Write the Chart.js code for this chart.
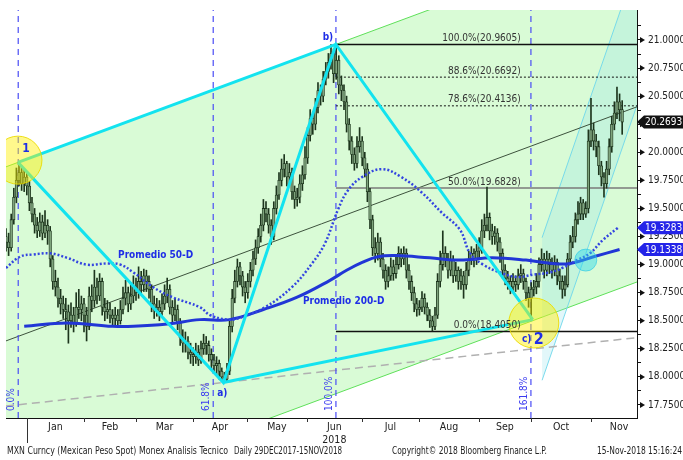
<!DOCTYPE html>
<html>
<head>
<meta charset="utf-8">
<script src="https://cdn.jsdelivr.net/npm/chart.js@4.4.1/dist/chart.umd.min.js"></script>
<style>
  html, body { margin: 0; padding: 0; background: #fff; }
</style>
</head>
<body>
<canvas id="chart" width="683" height="460"></canvas>
<script>
// daily MXN spot, trading day index 0 = 29 Dec 2017
var firstOpen = 19.25;
var closes = [
  19.20,19.15,19.40,19.60,19.75,19.82,19.72,19.78,19.70,19.55,
  19.45,19.35,19.30,19.38,19.28,19.35,19.30,19.05,18.85,18.80,
  18.70,18.65,18.60,18.58,18.50,18.55,18.48,18.62,18.60,18.65,
  18.55,18.45,18.72,18.68,18.80,18.72,18.85,18.62,18.58,18.60,
  18.55,18.52,18.55,18.50,18.60,18.70,18.75,18.65,18.72,18.80,
  18.75,18.85,18.82,18.90,18.85,18.78,18.65,18.60,18.62,18.58,
  18.65,18.72,18.78,18.62,18.55,18.60,18.48,18.35,18.30,18.32,
  18.22,18.20,18.18,18.22,18.15,18.25,18.30,18.28,18.20,18.15,
  18.10,18.12,18.05,18.00,17.98,18.05,18.45,18.70,18.85,18.98,
  18.90,18.80,18.75,18.85,18.95,19.05,19.15,19.25,19.35,19.50,
  19.45,19.35,19.25,19.50,19.62,19.75,19.85,19.90,19.78,19.82,
  19.65,19.58,19.60,19.72,19.80,19.95,20.15,20.30,20.25,20.40,
  20.55,20.50,20.65,20.72,20.80,20.88,20.70,20.82,20.60,20.55,
  20.45,20.25,20.10,19.98,19.90,20.05,20.10,19.95,19.85,19.65,
  19.40,19.15,19.10,19.20,19.05,18.95,18.85,18.90,18.98,18.92,
  19.00,19.10,19.05,19.10,18.95,18.85,18.75,18.65,18.60,18.62,
  18.70,18.62,18.55,18.50,18.45,18.55,18.85,19.00,19.10,19.05,
  18.95,19.05,18.90,18.95,18.85,18.90,18.82,18.95,19.05,19.10,
  19.05,19.12,19.15,19.30,19.35,19.42,19.30,19.25,19.28,19.20,
  19.10,18.95,18.88,18.85,18.80,18.85,18.82,18.90,18.92,18.85,
  18.75,18.70,18.78,18.80,18.85,19.00,19.05,18.95,19.05,19.00,
  18.95,19.02,18.90,18.85,18.78,18.82,19.05,19.20,19.25,19.40,
  19.45,19.55,19.45,19.50,20.10,20.20,20.10,20.05,19.88,19.78,
  19.72,19.85,20.05,20.25,20.35,20.45,20.38,20.2693
];
var highs = [
  19.32,19.28,19.45,19.68,19.86,19.91,19.88,19.85,19.82,19.74,
  19.60,19.50,19.42,19.46,19.44,19.48,19.40,19.34,19.08,18.95,
  18.88,18.78,18.72,18.70,18.64,18.66,18.62,18.75,18.78,18.72,
  18.70,18.62,18.80,18.82,18.95,18.88,18.92,18.88,18.70,18.68,
  18.66,18.60,18.62,18.60,18.68,18.80,18.86,18.80,18.84,18.90,
  18.88,18.98,18.94,18.96,18.95,18.90,18.82,18.72,18.70,18.68,
  18.74,18.82,18.88,18.82,18.68,18.70,18.64,18.52,18.42,18.40,
  18.36,18.30,18.26,18.30,18.28,18.32,18.38,18.36,18.32,18.25,
  18.20,18.18,18.15,18.08,18.04,18.12,18.50,18.78,18.95,19.05,
  19.02,18.94,18.85,18.92,19.02,19.12,19.22,19.32,19.45,19.58,
  19.56,19.50,19.40,19.56,19.70,19.82,19.94,19.98,19.92,19.90,
  19.86,19.70,19.68,19.80,19.88,20.05,20.22,20.38,20.36,20.48,
  20.62,20.60,20.72,20.80,20.88,20.96,20.92,20.96,20.86,20.68,
  20.60,20.50,20.30,20.14,20.04,20.14,20.22,20.14,20.00,19.90,
  19.68,19.44,19.24,19.28,19.24,19.10,19.00,18.98,19.06,19.04,
  19.08,19.16,19.14,19.16,19.14,19.00,18.90,18.80,18.70,18.68,
  18.76,18.74,18.66,18.60,18.54,18.62,18.92,19.12,19.30,19.16,
  19.10,19.12,19.08,19.02,18.98,18.96,18.94,19.02,19.12,19.16,
  19.14,19.18,19.24,19.40,19.45,19.69,19.46,19.36,19.34,19.32,
  19.24,19.14,19.00,18.94,18.90,18.92,18.90,18.96,19.00,18.96,
  18.88,18.80,18.84,18.86,18.92,19.06,19.14,19.10,19.12,19.10,
  19.06,19.08,19.05,18.96,18.90,18.90,19.10,19.26,19.34,19.46,
  19.56,19.60,19.58,19.56,20.20,20.48,20.26,20.16,20.10,19.92,
  19.82,19.92,20.12,20.32,20.45,20.58,20.52,20.46
];
var lows = [
  19.12,19.08,19.12,19.36,19.55,19.70,19.66,19.65,19.62,19.48,
  19.38,19.28,19.24,19.25,19.22,19.24,19.18,18.98,18.78,18.72,
  18.62,18.56,18.52,18.42,18.30,18.44,18.40,18.45,18.52,18.50,
  18.40,18.32,18.42,18.58,18.62,18.65,18.68,18.55,18.50,18.52,
  18.48,18.45,18.46,18.44,18.47,18.56,18.64,18.58,18.60,18.66,
  18.68,18.70,18.74,18.76,18.76,18.70,18.58,18.52,18.54,18.50,
  18.54,18.60,18.66,18.56,18.48,18.50,18.42,18.28,18.22,18.22,
  18.16,18.12,18.10,18.12,18.10,18.12,18.20,18.20,18.14,18.08,
  18.04,18.02,17.98,17.96,17.95,17.96,18.02,18.40,18.66,18.80,
  18.82,18.72,18.66,18.70,18.80,18.90,19.00,19.10,19.20,19.30,
  19.38,19.28,19.18,19.22,19.45,19.58,19.70,19.78,19.70,19.72,
  19.58,19.50,19.52,19.55,19.66,19.76,19.90,20.10,20.16,20.20,
  20.35,20.42,20.45,20.60,20.66,20.74,20.62,20.65,20.52,20.46,
  20.38,20.18,20.02,19.90,19.84,19.86,20.00,19.88,19.78,19.56,
  19.32,19.08,19.02,19.04,18.98,18.88,18.78,18.80,18.86,18.86,
  18.88,18.96,18.98,19.00,18.88,18.78,18.68,18.58,18.54,18.55,
  18.58,18.56,18.50,18.44,18.41,18.42,18.52,18.80,18.95,18.98,
  18.88,18.90,18.84,18.85,18.78,18.78,18.70,18.78,18.90,19.00,
  18.98,19.00,19.06,19.10,19.24,19.30,19.22,19.18,19.18,19.12,
  19.02,18.88,18.82,18.78,18.74,18.76,18.76,18.78,18.84,18.78,
  18.68,18.62,18.50,18.72,18.74,18.80,18.94,18.88,18.90,18.92,
  18.88,18.90,18.82,18.78,18.70,18.72,18.80,19.00,19.15,19.20,
  19.36,19.40,19.40,19.42,19.46,20.05,20.02,19.96,19.80,19.70,
  19.60,19.68,19.80,20.00,20.20,20.30,20.28,20.16
];

// moving averages (day index / value)
var ma50Days = [0,5.4,10.4,17,23.5,31,39,44,49,56.5,64,74.6,78.5,85,89,99.6,110,117.7,122.7,127.7,131.5,137,144.6,152,160,167.7,174.6,178.5,183.5,190,196.5,202.7,209,214,219.6,224.6,229.6,235.4];
var ma50 = [18.97,19.07,19.09,19.10,19.06,19.00,19.01,19.00,18.93,18.80,18.71,18.62,18.55,18.51,18.52,18.62,18.80,19.01,19.19,19.49,19.66,19.78,19.85,19.78,19.64,19.46,19.31,19.10,19.00,18.93,18.89,18.91,18.93,18.97,19.04,19.10,19.22,19.3283];
var ma200Days = [7,23.5,41,49,62,74.6,86,99,112,124.6,131,137,143,150,163,174.6,187,200,210,217,226,236];
var ma200 = [18.45,18.48,18.45,18.45,18.47,18.51,18.51,18.60,18.71,18.86,18.95,19.02,19.07,19.08,19.06,19.04,19.06,19.04,19.01,19.01,19.07,19.1338];

// wave points 1, a), b), c)
var waveDays = [4.6, 83.6, 126.9, 202.6];
var wavePrices = [19.91, 17.95, 20.9605, 18.51];
var channelOffsets = [0, -1.55, -3.11];   // upper, median, lower

var tealDays = [206.2, 242.7];
var tealUpper = [19.24, 21.69];
var tealLower = [17.97, 20.42];

var trendDays = [0, 242.7];
var trendPrices = [17.74, 18.35];

var fibStartDay = 126.9;
var fibLevels = [20.9605, 20.6692, 20.4136, 19.6828, 18.4050];
var fibNames = ['100.0%', '88.6%', '78.6%', '50.0%', '0.0%'];

var timeZoneDays = [4.7, 79.7, 126.9, 201.9];
var timeZoneNames = ['0.0%', '61.8%', '100.0%', '161.8%'];

var monthStartDays = [8.1, 30.0, 50.0, 71.9, 92.7, 115.8, 136.9, 158.8, 181.9, 201.9, 225.0];
var monthMidDays = [19.0, 40.0, 61.0, 82.3, 104.2, 126.3, 147.9, 170.4, 191.9, 213.5, 235.8];
var monthLabels = ['Jan', 'Feb', 'Mar', 'Apr', 'May', ['Jun', '2018'], 'Jul', 'Aug', 'Sep', 'Oct', 'Nov'];

var priceTicks = [17.75, 18.0, 18.25, 18.5, 18.75, 19.0, 19.25, 19.5, 19.75, 20.0, 20.25, 20.5, 20.75, 21.0];

var X_MIN = 0, X_MAX = 242.7, Y_MIN = 17.634, Y_MAX = 21.267;
var FONT = "'DejaVu Sans Condensed', 'DejaVu Sans', sans-serif";
var BLUE = '#1f2ee6';

function pts(xs, ys) { return xs.map(function (x, i) { return { x: x, y: ys[i] }; }); }
function lineDs(data, color, width, dash, order, extra) {
  return Object.assign({
    type: 'line', data: data, borderColor: color, borderWidth: width,
    borderDash: dash || [], pointRadius: 0, fill: false, tension: 0, order: order
  }, extra || {});
}
function noPad(s) { s.paddingLeft = s.paddingRight = s.paddingTop = s.paddingBottom = 0; }

var slope = (wavePrices[2] - wavePrices[0]) / (waveDays[2] - waveDays[0]);
function chan(off) {
  return pts([X_MIN, X_MAX], [X_MIN, X_MAX].map(function (d) {
    return wavePrices[0] + slope * (d - waveDays[0]) + off;
  }));
}

var opens = closes.map(function (c, i) { return i ? closes[i - 1] : firstOpen; });
var wickData = closes.map(function (c, i) { return { x: i, y: [lows[i], highs[i]] }; });
var bodyData = closes.map(function (c, i) { return { x: i, y: [opens[i], c] }; });

var datasets = [
  lineDs(chan(channelOffsets[0]), '#5fe05a', 1, null, 30, { fill: '+1', backgroundColor: '#d9fbd6' }),
  lineDs(chan(channelOffsets[2]), '#5fe05a', 1, null, 29),
  lineDs(pts(tealDays, tealUpper), 'rgba(110,215,235,0.9)', 1, null, 28, { fill: '+1', backgroundColor: 'rgba(140,225,235,0.25)' }),
  lineDs(pts(tealDays, tealLower), 'rgba(110,215,235,0.9)', 1, null, 27),
  lineDs(chan(channelOffsets[1]), '#3d523d', 1, null, 25),
  lineDs(pts(trendDays, trendPrices), '#b0b0b0', 1.5, [8, 5], 25)
];
fibLevels.forEach(function (v, i) {
  var dotted = i === 1 || i === 2;
  var color = i === 3 ? '#7a7a7a' : '#111';
  datasets.push(lineDs(pts([fibStartDay, X_MAX], [v, v]), color, dotted ? 1 : 1.5, dotted ? [2, 2] : null, 24));
});
timeZoneDays.forEach(function (d) {
  datasets.push(lineDs(pts([d, d], [Y_MIN, Y_MAX]), '#4a4cf5', 1.2, [6, 5], 24));
});
datasets.push(
  { type: 'bar', data: wickData, backgroundColor: '#1d351d', barThickness: 1, grouped: false, order: 12 },
  { type: 'bar', data: bodyData, backgroundColor: '#7fa47d', borderColor: '#1d351d', borderWidth: 0.8,
    borderSkipped: false, barThickness: 2.6, grouped: false, order: 11 },
  lineDs(pts(ma200Days, ma200), '#2136d6', 3, null, 8, { tension: 0.4 }),
  lineDs(pts(ma50Days, ma50), '#3344e0', 2.5, [2, 2], 7, { tension: 0.4 }),
  lineDs(pts(waveDays, wavePrices), '#13e3ef', 3, null, 5),
  lineDs(pts([waveDays[0], waveDays[2]], [wavePrices[0], wavePrices[2]]), '#13e3ef', 3, null, 5),
  lineDs(pts([waveDays[1], waveDays[3]], [wavePrices[1], wavePrices[3]]), '#13e3ef', 3, null, 5),
  { type: 'line', showLine: false, order: 3, data: [{ x: 4.6, y: 19.93 }, { x: 203, y: 18.48 }],
    pointRadius: [24, 25], pointBackgroundColor: 'rgba(255,240,0,0.45)', pointBorderColor: 'rgba(235,220,0,0.9)', pointBorderWidth: 1 },
  { type: 'line', showLine: false, order: 3, data: [{ x: 223, y: 19.04 }],
    pointRadius: 11, pointBackgroundColor: 'rgba(40,215,235,0.45)', pointBorderColor: 'rgba(40,200,230,0.6)', pointBorderWidth: 1 }
);

function txt(ctx, s, x, y, font, color, align, w) {
  ctx.font = font; ctx.fillStyle = color; ctx.textAlign = align || 'left'; ctx.textBaseline = 'middle';
  if (w) ctx.fillText(s, x, y, w); else ctx.fillText(s, x, y);
}

var overlay = {
  id: 'overlay',
  afterDatasetsDraw: function (chart) {
    var ctx = chart.ctx, x = chart.scales.x, y = chart.scales.y, a = chart.chartArea;
    ctx.save();
    ctx.beginPath(); ctx.rect(a.left, a.top, a.right - a.left, a.bottom - a.top); ctx.clip();
    var fibRight = x.getPixelForValue(198);
    fibLevels.forEach(function (v, i) {
      txt(ctx, fibNames[i] + '(' + v.toFixed(4) + ')', fibRight, y.getPixelForValue(v) - 6,
        '10px ' + FONT, '#333', 'right');
    });
    timeZoneDays.forEach(function (d, i) {
      ctx.save();
      ctx.translate(x.getPixelForValue(d) - 7, a.bottom - 7);
      ctx.rotate(-Math.PI / 2);
      txt(ctx, timeZoneNames[i], 0, 0, '10px ' + FONT, '#3c3cf0', 'left');
      ctx.restore();
    });
    var bold = 'bold 10px ' + FONT;
    var px = waveDays.map(function (d) { return x.getPixelForValue(d); });
    var py = wavePrices.map(function (v) { return y.getPixelForValue(v); });
    txt(ctx, '1', px[0] + 8, py[0] - 14, 'bold 12px ' + FONT, BLUE, 'center');
    txt(ctx, 'a)', px[1] - 1, py[1] + 11, bold, BLUE, 'center');
    txt(ctx, 'b)', px[2] - 8, py[2] - 7, bold, BLUE, 'center');
    txt(ctx, 'c)', px[3] - 6, py[3] + 20, bold, BLUE, 'center');
    txt(ctx, '2', px[3] + 6, py[3] + 20, 'bold 16px ' + FONT, BLUE, 'center');
    txt(ctx, 'Promedio 50-D', x.getPixelForValue(43.1), y.getPixelForValue(19.085), bold, BLUE, 'left', 80);
    txt(ctx, 'Promedio 200-D', x.getPixelForValue(114.2), y.getPixelForValue(18.675), bold, BLUE, 'left', 87);
    ctx.restore();
  },
  afterDraw: function (chart) {
    var ctx = chart.ctx, x = chart.scales.x, y = chart.scales.y, a = chart.chartArea;
    ctx.save();
    ctx.fillStyle = '#111';
    priceTicks.forEach(function (v) {
      var p = y.getPixelForValue(v);
      ctx.beginPath(); ctx.moveTo(a.right + 3, p - 3); ctx.lineTo(a.right + 8, p); ctx.lineTo(a.right + 3, p + 3); ctx.fill();
    });
    ctx.strokeStyle = '#333'; ctx.lineWidth = 1;
    monthStartDays.forEach(function (d, i) {
      var p = Math.round(x.getPixelForValue(d)) + 0.5;
      ctx.beginPath(); ctx.moveTo(p, a.bottom); ctx.lineTo(p, a.bottom + (i === 0 ? 25 : 4)); ctx.stroke();
    });
    function tag(v, bg) {
      var p = y.getPixelForValue(v);
      ctx.fillStyle = bg;
      ctx.beginPath();
      ctx.moveTo(a.right, p); ctx.lineTo(a.right + 7, p - 6.5); ctx.lineTo(683, p - 6.5);
      ctx.lineTo(683, p + 6.5); ctx.lineTo(a.right + 7, p + 6.5); ctx.closePath(); ctx.fill();
      txt(ctx, v.toFixed(4), a.right + 8, p + 0.5, '10px ' + FONT, '#fff', 'left', 38);
    }
    tag(ma50[ma50.length - 1], '#2424e8');
    tag(ma200[ma200.length - 1], '#2424e8');
    tag(closes[closes.length - 1], '#111');
    var f = '10px ' + FONT;
    txt(ctx, 'MXN Curncy (Mexican Peso Spot) Monex Analisis Tecnico', 7, 451, f, '#222', 'left', 221);
    txt(ctx, 'Daily 29DEC2017-15NOV2018', 234, 451, f, '#222', 'left', 108);
    txt(ctx, 'Copyright\u00a9 2018 Bloomberg Finance L.P.', 392, 451, f, '#222', 'left', 155);
    txt(ctx, '15-Nov-2018 15:16:24', 597, 451, f, '#222', 'left', 85);
    ctx.restore();
  }
};

new Chart(document.getElementById('chart'), {
  type: 'bar',
  data: { datasets: datasets },
  options: {
    responsive: false, animation: false,
    layout: { autoPadding: false, padding: { left: 6, top: 10, right: 0, bottom: 0 } },
    plugins: { legend: { display: false }, tooltip: { enabled: false } },
    scales: {
      x: {
        type: 'linear', min: X_MIN, max: X_MAX, offset: false,
        afterFit: function (s) { s.height = 42; noPad(s); },
        afterBuildTicks: function (s) { s.ticks = monthMidDays.map(function (v) { return { value: v }; }); },
        grid: { display: false, drawTicks: false },
        border: { display: true, color: '#111', width: 1 },
        ticks: {
          autoSkip: false, maxRotation: 0, padding: 3, color: '#222', font: { family: FONT, size: 10.5 },
          callback: function (v, i) { return monthLabels[i]; }
        }
      },
      y: {
        type: 'linear', position: 'right', min: Y_MIN, max: Y_MAX,
        afterFit: function (s) { s.width = 46; noPad(s); },
        afterBuildTicks: function (s) {
          var t = [];
          priceTicks.forEach(function (v) { t.push({ value: v }); t.push({ value: v + 0.125 }); });
          s.ticks = t;
        },
        grid: { drawOnChartArea: false, drawTicks: true, tickLength: 4, color: '#111' },
        border: { display: true, color: '#111', width: 1 },
        ticks: {
          autoSkip: false, padding: 7, color: '#222', font: { family: FONT, size: 10 },
          callback: function (v) { return priceTicks.indexOf(v) >= 0 ? v.toFixed(4) : ''; }
        }
      }
    }
  },
  plugins: [overlay]
});
</script>
</body>
</html>
